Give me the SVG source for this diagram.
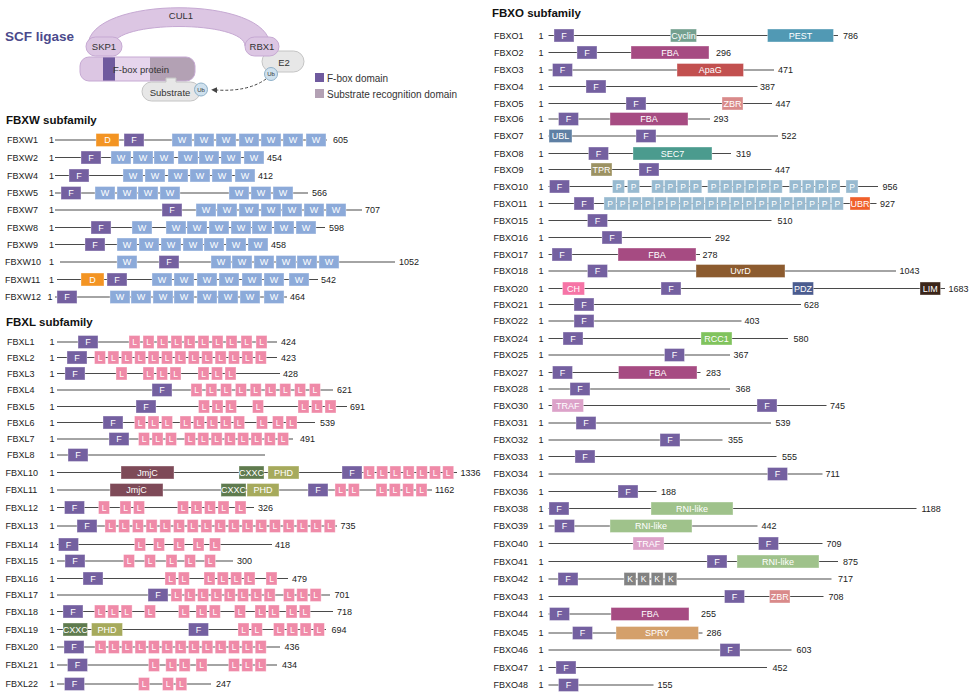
<svg xmlns="http://www.w3.org/2000/svg" xmlns:xlink="http://www.w3.org/1999/xlink" width="974" height="694" viewBox="0 0 974 694">
<style>
text{font-family:"Liberation Sans",Arial,sans-serif}
.lb{font-size:9px;fill:#222}
.hd{font-size:11.5px;font-weight:bold;fill:#111}
.t{font-size:9px;fill:#fff;text-anchor:middle}
.ts{font-size:8.5px;fill:#fff;text-anchor:middle}
.bb{stroke:#4a4a4a;stroke-width:1.1}
rect.d{stroke:#fff;stroke-opacity:.45;stroke-width:.8}
.cF{fill:#7460a0}.cW{fill:#8caad9}.cL{fill:#ef8aa8}.cP{fill:#98bad0}.cK{fill:#828282}
.cD{fill:#f39423}.cJ{fill:#7e4a58}.cX{fill:#5f7b4e}.cH{fill:#a6aa5c}
.cCy{fill:#74a08f}.cPE{fill:#5199b4}.cFBA{fill:#a64b82}.cAp{fill:#c2504f}.cZ{fill:#d98a8a}
.cU{fill:#5f80a4}.cS{fill:#4b9b8e}.cT{fill:#9c9262}.cUB{fill:#f0602b}.cUv{fill:#8c5b2f}
.cCH{fill:#f674a6}.cPD{fill:#4b5c8f}.cLI{fill:#3b2519}.cR{fill:#80c35d}.cTR{fill:#dca2c9}
.cRN{fill:#9fc28b}.cSP{fill:#d4a06b}
.pp{fill:#dcc6e3;stroke:#c6a9d3;stroke-width:1}
.gr{fill:#e7e7e7;stroke:#c4c4c4;stroke-width:1}
.ub{fill:#cfe1ee;stroke:#8fb1c9;stroke-width:1}
.sc{font-size:9.5px;fill:#333;text-anchor:middle}
.ut{font-size:6px;fill:#333;text-anchor:middle}
.lg{font-size:10px;fill:#333}
</style>
<defs>
<g id="dF"><rect class="d cF" y="-6.5" width="20" height="13"/><text class="t" x="10" y="3.2">F</text></g>
<g id="dW"><rect class="d cW" y="-6.5" width="20" height="13"/><text class="t" x="10" y="3.2">W</text></g>
<g id="dL"><rect class="d cL" y="-6.5" width="11" height="13"/><text class="ts" x="5.5" y="3">L</text></g>
<g id="dP"><rect class="d cP" y="-6.5" width="12" height="13"/><text class="ts" x="6" y="3">P</text></g>
<g id="dK"><rect class="d cK" y="-6.5" width="12" height="13"/><text class="ts" x="6" y="3">K</text></g>
<g id="dD"><rect class="d cD" y="-6.5" width="23" height="13"/><text class="t" x="11.5" y="3.2">D</text></g>
<marker id="ah" viewBox="0 0 10 10" refX="2" refY="5" markerWidth="6" markerHeight="6" orient="auto-start-reverse"><path d="M0,0 L10,5 L0,10 Z" fill="#444"/></marker>
<clipPath id="fbp"><rect x="80" y="57" width="115" height="24" rx="9"/></clipPath>
</defs>

<g id="scf-title"><text x="5" y="41" style="font-size:13.5px;font-weight:bold;fill:#4b4a8c">SCF ligase</text></g>
<g id="CUL1"><path class="pp" d="M88,46 C88,-5 270,-5 270,46 L245,46 C245,20 113,20 113,46 Z"/><text class="sc" x="181" y="18.5">CUL1</text></g>
<g id="E2"><rect class="gr" x="262" y="51" width="42" height="21" rx="10.5"/><text class="sc" x="284" y="66">E2</text></g>
<g id="SKP1"><rect class="pp" x="86" y="37" width="36" height="19" rx="9.5"/><text class="sc" x="104" y="50">SKP1</text></g>
<g id="RBX1"><rect class="pp" x="245" y="37" width="34" height="19" rx="9.5"/><text class="sc" x="262" y="50">RBX1</text></g>
<g id="Ub-E2"><circle class="ub" cx="271" cy="74" r="6.5"/><text class="ut" x="271" y="76.2">Ub</text></g>
<g id="Fbox-protein">
<g clip-path="url(#fbp)"><rect x="80" y="57" width="23" height="24" fill="#dcc6e3"/><rect x="103" y="57" width="12" height="24" fill="#6f5a9e"/><rect x="115" y="57" width="35" height="24" fill="#e6d5ec"/><rect x="150" y="57" width="45" height="24" fill="#b3a1b4"/></g>
<rect x="80" y="57" width="115" height="24" rx="9" fill="none" stroke="#c6a9d3" stroke-width="1"/>
<text class="sc" x="141" y="73">F-box protein</text></g>
<g id="Substrate"><path class="gr" d="M151.5,82 H166 V78 H176 V82 H190.5 A9.5,9.5 0 0 1 190.5,101 H151.5 A9.5,9.5 0 0 1 151.5,82 Z"/><text class="sc" x="170" y="96">Substrate</text></g>
<g id="Ub-sub"><circle class="ub" cx="201" cy="89.5" r="6.5"/><text class="ut" x="201" y="91.7">Ub</text></g>
<g id="connectors"><path d="M266,79 Q248,92 216,90" fill="none" stroke="#444" stroke-width="1" stroke-dasharray="3,2" marker-end="url(#ah)"/></g>
<g id="legend"><rect x="315" y="73" width="9" height="9" fill="#6f5a9e"/><text class="lg" x="327" y="81.5">F-box domain</text><rect x="315" y="89" width="9" height="9" fill="#b3a1b4"/><text class="lg" x="327" y="97.5">Substrate recognition domain</text></g>

<text class="hd" x="6" y="124">FBXW subfamily</text>
<g id="FBXW1" transform="translate(0,140)"><text class="lb" x="7" y="3.2">FBXW1</text><text class="lb" x="49" y="3.2">1</text><line class="bb" x1="55" x2="327"/><use href="#dD" x="96"/><use href="#dF" x="124"/><use href="#dW" x="172"/><use href="#dW" x="194"/><use href="#dW" x="216"/><use href="#dW" x="239"/><use href="#dW" x="261"/><use href="#dW" x="283"/><use href="#dW" x="306"/><text class="lb" x="333" y="3.2">605</text></g>
<g id="FBXW2" transform="translate(0,157.5)"><text class="lb" x="7" y="3.2">FBXW2</text><text class="lb" x="49" y="3.2">1</text><line class="bb" x1="55" x2="264"/><use href="#dF" x="81"/><use href="#dW" x="111"/><use href="#dW" x="133"/><use href="#dW" x="154"/><use href="#dW" x="178"/><use href="#dW" x="199"/><use href="#dW" x="221"/><use href="#dW" x="244"/><text class="lb" x="267" y="3.2">454</text></g>
<g id="FBXW4" transform="translate(0,175.5)"><text class="lb" x="7" y="3.2">FBXW4</text><text class="lb" x="49" y="3.2">1</text><line class="bb" x1="55" x2="255"/><use href="#dF" x="69"/><use href="#dW" x="123"/><use href="#dW" x="145"/><use href="#dW" x="168"/><use href="#dW" x="190"/><use href="#dW" x="212"/><use href="#dW" x="235"/><text class="lb" x="258" y="3.2">412</text></g>
<g id="FBXW5" transform="translate(0,193)"><text class="lb" x="7" y="3.2">FBXW5</text><text class="lb" x="49" y="3.2">1</text><line class="bb" x1="55" x2="308"/><use href="#dF" x="61"/><use href="#dW" x="95"/><use href="#dW" x="117"/><use href="#dW" x="138"/><use href="#dW" x="160"/><use href="#dW" x="229"/><use href="#dW" x="251"/><use href="#dW" x="273"/><text class="lb" x="312" y="3.2">566</text></g>
<g id="FBXW7" transform="translate(0,210)"><text class="lb" x="7" y="3.2">FBXW7</text><text class="lb" x="49" y="3.2">1</text><line class="bb" x1="55" x2="362"/><use href="#dF" x="162"/><use href="#dW" x="196"/><use href="#dW" x="217"/><use href="#dW" x="239"/><use href="#dW" x="261"/><use href="#dW" x="282"/><use href="#dW" x="304"/><use href="#dW" x="326"/><text class="lb" x="365" y="3.2">707</text></g>
<g id="FBXW8" transform="translate(0,227.5)"><text class="lb" x="7" y="3.2">FBXW8</text><text class="lb" x="49" y="3.2">1</text><line class="bb" x1="55" x2="325"/><use href="#dF" x="91"/><use href="#dW" x="132"/><use href="#dW" x="166"/><use href="#dW" x="187"/><use href="#dW" x="209"/><use href="#dW" x="231"/><use href="#dW" x="252"/><use href="#dW" x="274"/><use href="#dW" x="296"/><text class="lb" x="329" y="3.2">598</text></g>
<g id="FBXW9" transform="translate(0,244.5)"><text class="lb" x="7" y="3.2">FBXW9</text><text class="lb" x="49" y="3.2">1</text><line class="bb" x1="55" x2="268"/><use href="#dF" x="85"/><use href="#dW" x="117"/><use href="#dW" x="139"/><use href="#dW" x="161"/><use href="#dW" x="183"/><use href="#dW" x="204"/><use href="#dW" x="226"/><use href="#dW" x="248"/><text class="lb" x="271" y="3.2">458</text></g>
<g id="FBXW10" transform="translate(0,262)"><text class="lb" x="5" y="3.2">FBXW10</text><text class="lb" x="49" y="3.2">1</text><line class="bb" x1="60" x2="395"/><use href="#dW" x="117"/><use href="#dF" x="159"/><use href="#dW" x="211"/><use href="#dW" x="232"/><use href="#dW" x="254"/><use href="#dW" x="276"/><use href="#dW" x="297"/><use href="#dW" x="319"/><text class="lb" x="399" y="3.2">1052</text></g>
<g id="FBXW11" transform="translate(0,279.5)"><text class="lb" x="5" y="3.2">FBXW11</text><text class="lb" x="49" y="3.2">1</text><line class="bb" x1="57" x2="318"/><use href="#dD" x="81"/><use href="#dF" x="107"/><use href="#dW" x="152"/><use href="#dW" x="174"/><use href="#dW" x="197"/><use href="#dW" x="219"/><use href="#dW" x="242"/><use href="#dW" x="264"/><use href="#dW" x="289"/><text class="lb" x="321" y="3.2">542</text></g>
<g id="FBXW12" transform="translate(0,297)"><text class="lb" x="5" y="3.2">FBXW12</text><text class="lb" x="47.5" y="3.2">1</text><line class="bb" x1="55" x2="287"/><use href="#dF" x="57"/><use href="#dW" x="110"/><use href="#dW" x="131"/><use href="#dW" x="153"/><use href="#dW" x="174"/><use href="#dW" x="197"/><use href="#dW" x="218"/><use href="#dW" x="240"/><use href="#dW" x="264"/><text class="lb" x="290" y="3.2">464</text></g>

<text class="hd" x="6" y="326">FBXL subfamily</text>
<g id="FBXL1" transform="translate(0,342)"><text class="lb" x="7" y="3.2">FBXL1</text><text class="lb" x="49.5" y="3.2">1</text><line class="bb" x1="57" x2="277"/><use href="#dF" x="78"/><use href="#dL" x="129"/><use href="#dL" x="143"/><use href="#dL" x="157"/><use href="#dL" x="171"/><use href="#dL" x="184"/><use href="#dL" x="198"/><use href="#dL" x="212"/><use href="#dL" x="226"/><use href="#dL" x="241"/><use href="#dL" x="256"/><text class="lb" x="281" y="3.2">424</text></g>
<g id="FBXL2" transform="translate(0,357.5)"><text class="lb" x="7" y="3.2">FBXL2</text><text class="lb" x="49.5" y="3.2">1</text><line class="bb" x1="57" x2="277"/><use href="#dF" x="67"/><use href="#dL" x="94.5"/><use href="#dL" x="107.9"/><use href="#dL" x="121.3"/><use href="#dL" x="134.7"/><use href="#dL" x="148.1"/><use href="#dL" x="161.5"/><use href="#dL" x="174.9"/><use href="#dL" x="188.3"/><use href="#dL" x="201.7"/><use href="#dL" x="215.1"/><use href="#dL" x="228.5"/><use href="#dL" x="241.9"/><use href="#dL" x="255.3"/><text class="lb" x="281" y="3.2">423</text></g>
<g id="FBXL3" transform="translate(0,373.5)"><text class="lb" x="7" y="3.2">FBXL3</text><text class="lb" x="49.5" y="3.2">1</text><line class="bb" x1="57" x2="280"/><use href="#dF" x="65"/><use href="#dL" x="116"/><use href="#dL" x="143"/><use href="#dL" x="156.5"/><use href="#dL" x="170"/><use href="#dL" x="198"/><use href="#dL" x="211.5"/><use href="#dL" x="225"/><text class="lb" x="283" y="3.2">428</text></g>
<g id="FBXL4" transform="translate(0,390)"><text class="lb" x="7" y="3.2">FBXL4</text><text class="lb" x="49.5" y="3.2">1</text><line class="bb" x1="57" x2="333"/><use href="#dF" x="152"/><use href="#dL" x="191"/><use href="#dL" x="205.8"/><use href="#dL" x="220.6"/><use href="#dL" x="235.4"/><use href="#dL" x="250.2"/><use href="#dL" x="265"/><use href="#dL" x="279.8"/><use href="#dL" x="294.6"/><use href="#dL" x="309.4"/><text class="lb" x="337" y="3.2">621</text></g>
<g id="FBXL5" transform="translate(0,406.5)"><text class="lb" x="7" y="3.2">FBXL5</text><text class="lb" x="49.5" y="3.2">1</text><line class="bb" x1="57" x2="347"/><use href="#dF" x="136"/><use href="#dL" x="198.5"/><use href="#dL" x="212"/><use href="#dL" x="225.5"/><use href="#dL" x="252.5"/><use href="#dL" x="298"/><use href="#dL" x="311.5"/><use href="#dL" x="325"/><text class="lb" x="350" y="3.2">691</text></g>
<g id="FBXL6" transform="translate(0,422.5)"><text class="lb" x="7" y="3.2">FBXL6</text><text class="lb" x="49.5" y="3.2">1</text><line class="bb" x1="57" x2="315"/><use href="#dF" x="103"/><use href="#dL" x="134.5"/><use href="#dL" x="148"/><use href="#dL" x="161.5"/><use href="#dL" x="180"/><use href="#dL" x="193.4"/><use href="#dL" x="206.8"/><use href="#dL" x="220.2"/><use href="#dL" x="233.6"/><use href="#dL" x="256.5"/><use href="#dL" x="272.5"/><use href="#dL" x="286"/><text class="lb" x="320" y="3.2">539</text></g>
<g id="FBXL7" transform="translate(0,439)"><text class="lb" x="7" y="3.2">FBXL7</text><text class="lb" x="49.5" y="3.2">1</text><line class="bb" x1="57" x2="293"/><use href="#dF" x="109"/><use href="#dL" x="138.5"/><use href="#dL" x="152"/><use href="#dL" x="165.5"/><use href="#dL" x="184.5"/><use href="#dL" x="197.8"/><use href="#dL" x="211.1"/><use href="#dL" x="224.4"/><use href="#dL" x="237.7"/><use href="#dL" x="251"/><use href="#dL" x="264.3"/><use href="#dL" x="277.6"/><text class="lb" x="300" y="3.2">491</text></g>
<g id="FBXL8" transform="translate(0,455)"><text class="lb" x="7" y="3.2">FBXL8</text><text class="lb" x="49.5" y="3.2">1</text><line class="bb" x1="57" x2="265"/><use href="#dF" x="68"/></g>
<g id="FBXL10" transform="translate(0,472.5)"><text class="lb" x="5.5" y="3.2">FBXL10</text><text class="lb" x="49.5" y="3.2">1</text><line class="bb" x1="57" x2="457"/><rect class="d cJ" x="121" y="-6.5" width="53" height="13"/><text class="t" x="147.5" y="3.2">JmjC</text><rect class="d cX" x="239" y="-6.5" width="25" height="13"/><text class="t" x="251.5" y="3.2">CXXC</text><rect class="d cH" x="268" y="-6.5" width="31" height="13"/><text class="t" x="283.5" y="3.2">PHD</text><use href="#dF" x="342"/><use href="#dL" x="363.5"/><use href="#dL" x="376.7"/><use href="#dL" x="389.9"/><use href="#dL" x="403.1"/><use href="#dL" x="416.3"/><use href="#dL" x="429.5"/><use href="#dL" x="442.7"/><text class="lb" x="460.5" y="3.2">1336</text></g>
<g id="FBXL11" transform="translate(0,490)"><text class="lb" x="5.5" y="3.2">FBXL11</text><text class="lb" x="49.5" y="3.2">1</text><line class="bb" x1="57" x2="432"/><rect class="d cJ" x="110" y="-6.5" width="53" height="13"/><text class="t" x="136.5" y="3.2">JmjC</text><rect class="d cX" x="221" y="-6.5" width="25" height="13"/><text class="t" x="233.5" y="3.2">CXXC</text><rect class="d cH" x="247" y="-6.5" width="32" height="13"/><text class="t" x="263" y="3.2">PHD</text><use href="#dF" x="308"/><use href="#dL" x="335"/><use href="#dL" x="348.3"/><use href="#dL" x="376"/><use href="#dL" x="389.3"/><use href="#dL" x="402.7"/><use href="#dL" x="416"/><text class="lb" x="435" y="3.2">1162</text></g>
<g id="FBXL12" transform="translate(0,507.5)"><text class="lb" x="5.5" y="3.2">FBXL12</text><text class="lb" x="49.5" y="3.2">1</text><line class="bb" x1="57" x2="254"/><use href="#dF" x="64.5"/><use href="#dL" x="98.5"/><use href="#dL" x="120"/><use href="#dL" x="133.5"/><use href="#dL" x="177.5"/><use href="#dL" x="191"/><use href="#dL" x="204.5"/><use href="#dL" x="218"/><use href="#dL" x="235"/><text class="lb" x="258" y="3.2">326</text></g>
<g id="FBXL13" transform="translate(0,526)"><text class="lb" x="5.5" y="3.2">FBXL13</text><text class="lb" x="49.5" y="3.2">1</text><line class="bb" x1="57" x2="337"/><use href="#dF" x="77"/><use href="#dL" x="105"/><use href="#dL" x="118.7"/><use href="#dL" x="132.4"/><use href="#dL" x="146.1"/><use href="#dL" x="159.8"/><use href="#dL" x="173.5"/><use href="#dL" x="187.2"/><use href="#dL" x="200.9"/><use href="#dL" x="214.6"/><use href="#dL" x="228.3"/><use href="#dL" x="242"/><use href="#dL" x="255.7"/><use href="#dL" x="269.4"/><use href="#dL" x="283.1"/><use href="#dL" x="296.8"/><use href="#dL" x="310.5"/><use href="#dL" x="324.2"/><text class="lb" x="340.5" y="3.2">735</text></g>
<g id="FBXL14" transform="translate(0,544.5)"><text class="lb" x="5.5" y="3.2">FBXL14</text><text class="lb" x="49.5" y="3.2">1</text><line class="bb" x1="57" x2="272"/><use href="#dF" x="58.5"/><use href="#dL" x="134.5"/><use href="#dL" x="153.5"/><use href="#dL" x="173.5"/><use href="#dL" x="193"/><use href="#dL" x="209.5"/><text class="lb" x="275" y="3.2">418</text></g>
<g id="FBXL15" transform="translate(0,561)"><text class="lb" x="5.5" y="3.2">FBXL15</text><text class="lb" x="49.5" y="3.2">1</text><line class="bb" x1="57" x2="233"/><use href="#dF" x="65"/><use href="#dL" x="123.5"/><use href="#dL" x="144.5"/><use href="#dL" x="166"/><use href="#dL" x="184.5"/><use href="#dL" x="204.5"/><text class="lb" x="237" y="3.2">300</text></g>
<g id="FBXL16" transform="translate(0,578.5)"><text class="lb" x="5.5" y="3.2">FBXL16</text><text class="lb" x="49.5" y="3.2">1</text><line class="bb" x1="57" x2="288"/><use href="#dF" x="83"/><use href="#dL" x="165"/><use href="#dL" x="178.3"/><use href="#dL" x="204"/><use href="#dL" x="217.3"/><use href="#dL" x="230.7"/><use href="#dL" x="244"/><use href="#dL" x="266"/><text class="lb" x="292" y="3.2">479</text></g>
<g id="FBXL17" transform="translate(0,595)"><text class="lb" x="5.5" y="3.2">FBXL17</text><text class="lb" x="49.5" y="3.2">1</text><line class="bb" x1="57" x2="330"/><use href="#dF" x="148"/><use href="#dL" x="171"/><use href="#dL" x="184.3"/><use href="#dL" x="197.6"/><use href="#dL" x="210.9"/><use href="#dL" x="224.2"/><use href="#dL" x="237.5"/><use href="#dL" x="250.8"/><use href="#dL" x="264.1"/><use href="#dL" x="283.5"/><use href="#dL" x="296.8"/><use href="#dL" x="310.1"/><text class="lb" x="334.5" y="3.2">701</text></g>
<g id="FBXL18" transform="translate(0,611.5)"><text class="lb" x="5.5" y="3.2">FBXL18</text><text class="lb" x="49.5" y="3.2">1</text><line class="bb" x1="57" x2="333"/><use href="#dF" x="63"/><use href="#dL" x="94.5"/><use href="#dL" x="107.8"/><use href="#dL" x="121.1"/><use href="#dL" x="144.5"/><use href="#dL" x="178.5"/><use href="#dL" x="196"/><use href="#dL" x="209.3"/><use href="#dL" x="234.5"/><use href="#dL" x="255"/><use href="#dL" x="268.3"/><use href="#dL" x="286"/><use href="#dL" x="299.3"/><text class="lb" x="337" y="3.2">718</text></g>
<g id="FBXL19" transform="translate(0,629.5)"><text class="lb" x="5.5" y="3.2">FBXL19</text><text class="lb" x="49.5" y="3.2">1</text><line class="bb" x1="57" x2="326"/><rect class="d cX" x="63" y="-6.5" width="24.5" height="13"/><text class="t" x="75.2" y="3.2">CXXC</text><rect class="d cH" x="91.5" y="-6.5" width="31" height="13"/><text class="t" x="107" y="3.2">PHD</text><use href="#dF" x="188.5"/><use href="#dL" x="238"/><use href="#dL" x="251.3"/><use href="#dL" x="273.5"/><use href="#dL" x="286.8"/><use href="#dL" x="300.1"/><use href="#dL" x="313.4"/><text class="lb" x="331.5" y="3.2">694</text></g>
<g id="FBXL20" transform="translate(0,647)"><text class="lb" x="5.5" y="3.2">FBXL20</text><text class="lb" x="49.5" y="3.2">1</text><line class="bb" x1="57" x2="280"/><use href="#dF" x="64"/><use href="#dL" x="95"/><use href="#dL" x="108.35"/><use href="#dL" x="121.7"/><use href="#dL" x="135.05"/><use href="#dL" x="148.4"/><use href="#dL" x="161.75"/><use href="#dL" x="175.1"/><use href="#dL" x="188.45"/><use href="#dL" x="201.8"/><use href="#dL" x="215.15"/><use href="#dL" x="228.5"/><use href="#dL" x="241.85"/><use href="#dL" x="255.2"/><text class="lb" x="284.5" y="3.2">436</text></g>
<g id="FBXL21" transform="translate(0,665)"><text class="lb" x="5.5" y="3.2">FBXL21</text><text class="lb" x="49.5" y="3.2">1</text><line class="bb" x1="57" x2="277"/><use href="#dF" x="67.5"/><use href="#dL" x="148.5"/><use href="#dL" x="165.8"/><use href="#dL" x="179.1"/><use href="#dL" x="196"/><use href="#dL" x="228.5"/><use href="#dL" x="241.8"/><use href="#dL" x="255.1"/><text class="lb" x="282" y="3.2">434</text></g>
<g id="FBXL22" transform="translate(0,684)"><text class="lb" x="5.5" y="3.2">FBXL22</text><text class="lb" x="49.5" y="3.2">1</text><line class="bb" x1="57" x2="211"/><use href="#dF" x="64.5"/><use href="#dL" x="138.5"/><use href="#dL" x="162.5"/><use href="#dL" x="175.8"/><text class="lb" x="216" y="3.2">247</text></g>

<text class="hd" x="492" y="17">FBXO subfamily</text>
<g id="FBXO1" transform="translate(0,35.5)"><text class="lb" x="494" y="3.2">FBXO1</text><text class="lb" x="538.5" y="3.2">1</text><line class="bb" x1="548.5" x2="838"/><use href="#dF" x="554"/><rect class="d cCy" x="670.5" y="-6.5" width="26" height="13"/><text class="t" x="683.5" y="3.2">Cyclin</text><rect class="d cPE" x="767.5" y="-6.5" width="66" height="13"/><text class="t" x="800.5" y="3.2">PEST</text><text class="lb" x="843" y="3.2">786</text></g>
<g id="FBXO2" transform="translate(0,52.5)"><text class="lb" x="494" y="3.2">FBXO2</text><text class="lb" x="538.5" y="3.2">1</text><line class="bb" x1="548.5" x2="709"/><use href="#dF" x="577"/><rect class="d cFBA" x="631" y="-6.5" width="78" height="13"/><text class="t" x="670" y="3.2">FBA</text><text class="lb" x="716" y="3.2">296</text></g>
<g id="FBXO3" transform="translate(0,70)"><text class="lb" x="494" y="3.2">FBXO3</text><text class="lb" x="538.5" y="3.2">1</text><line class="bb" x1="548.5" x2="774"/><use href="#dF" x="552.5"/><rect class="d cAp" x="677" y="-6.5" width="66.5" height="13"/><text class="t" x="710.2" y="3.2">ApaG</text><text class="lb" x="778" y="3.2">471</text></g>
<g id="FBXO4" transform="translate(0,86.5)"><text class="lb" x="494" y="3.2">FBXO4</text><text class="lb" x="538.5" y="3.2">1</text><line class="bb" x1="548.5" x2="757.5"/><use href="#dF" x="586"/><text class="lb" x="760" y="3.2">387</text></g>
<g id="FBXO5" transform="translate(0,103.5)"><text class="lb" x="494" y="3.2">FBXO5</text><text class="lb" x="538.5" y="3.2">1</text><line class="bb" x1="548.5" x2="772"/><use href="#dF" x="626"/><rect class="d cZ" x="722" y="-6.5" width="21" height="13"/><text class="t" x="732.5" y="3.2">ZBR</text><text class="lb" x="775.5" y="3.2">447</text></g>
<g id="FBXO6" transform="translate(0,119)"><text class="lb" x="494" y="3.2">FBXO6</text><text class="lb" x="538.5" y="3.2">1</text><line class="bb" x1="548.5" x2="710"/><use href="#dF" x="558.5"/><rect class="d cFBA" x="610" y="-6.5" width="78" height="13"/><text class="t" x="649" y="3.2">FBA</text><text class="lb" x="713.5" y="3.2">293</text></g>
<g id="FBXO7" transform="translate(0,136)"><text class="lb" x="494" y="3.2">FBXO7</text><text class="lb" x="538.5" y="3.2">1</text><line class="bb" x1="548.5" x2="778"/><rect class="d cU" x="549" y="-6.5" width="23" height="13"/><text class="t" x="560.5" y="3.2">UBL</text><use href="#dF" x="636"/><text class="lb" x="781.5" y="3.2">522</text></g>
<g id="FBXO8" transform="translate(0,153.5)"><text class="lb" x="494" y="3.2">FBXO8</text><text class="lb" x="538.5" y="3.2">1</text><line class="bb" x1="548.5" x2="731"/><use href="#dF" x="588.5"/><rect class="d cS" x="633" y="-6.5" width="79" height="13"/><text class="t" x="672.5" y="3.2">SEC7</text><text class="lb" x="736" y="3.2">319</text></g>
<g id="FBXO9" transform="translate(0,169.5)"><text class="lb" x="494" y="3.2">FBXO9</text><text class="lb" x="538.5" y="3.2">1</text><line class="bb" x1="548.5" x2="771.5"/><rect class="d cT" x="591" y="-6.5" width="21" height="13"/><text class="t" x="601.5" y="3.2">TPR</text><use href="#dF" x="639"/><text class="lb" x="775" y="3.2">447</text></g>
<g id="FBXO10" transform="translate(0,186.5)"><text class="lb" x="493.5" y="3.2">FBXO10</text><text class="lb" x="538.5" y="3.2">1</text><line class="bb" x1="548.5" x2="878"/><use href="#dF" x="549.5"/><use href="#dP" x="612.5"/><use href="#dP" x="627.5"/><use href="#dP" x="651.7"/><use href="#dP" x="664.4"/><use href="#dP" x="677.1"/><use href="#dP" x="689.8"/><use href="#dP" x="707.7"/><use href="#dP" x="720.2"/><use href="#dP" x="732.7"/><use href="#dP" x="745.2"/><use href="#dP" x="757.7"/><use href="#dP" x="770.2"/><use href="#dP" x="789.3"/><use href="#dP" x="802.2"/><use href="#dP" x="815.1"/><use href="#dP" x="828"/><use href="#dP" x="846"/><text class="lb" x="882.5" y="3.2">956</text></g>
<g id="FBXO11" transform="translate(0,203.5)"><text class="lb" x="493.5" y="3.2">FBXO11</text><text class="lb" x="538.5" y="3.2">1</text><line class="bb" x1="548.5" x2="876.5"/><use href="#dF" x="574"/><use href="#dP" x="604"/><use href="#dP" x="616.6"/><use href="#dP" x="629.3"/><use href="#dP" x="641.9"/><use href="#dP" x="654.5"/><use href="#dP" x="667.2"/><use href="#dP" x="679.8"/><use href="#dP" x="692.4"/><use href="#dP" x="705"/><use href="#dP" x="717.7"/><use href="#dP" x="730.3"/><use href="#dP" x="742.9"/><use href="#dP" x="755.6"/><use href="#dP" x="768.2"/><use href="#dP" x="780.8"/><use href="#dP" x="793.5"/><use href="#dP" x="806.1"/><use href="#dP" x="818.7"/><use href="#dP" x="831.3"/><rect class="d cUB" x="850" y="-6.5" width="20" height="13"/><text class="t" x="860" y="3.2">UBR</text><text class="lb" x="880" y="3.2">927</text></g>
<g id="FBXO15" transform="translate(0,220.5)"><text class="lb" x="493.5" y="3.2">FBXO15</text><text class="lb" x="538.5" y="3.2">1</text><line class="bb" x1="548.5" x2="771.5"/><use href="#dF" x="587.5"/><text class="lb" x="777.5" y="3.2">510</text></g>
<g id="FBXO16" transform="translate(0,237.5)"><text class="lb" x="493.5" y="3.2">FBXO16</text><text class="lb" x="538.5" y="3.2">1</text><line class="bb" x1="548.5" x2="711"/><use href="#dF" x="602"/><text class="lb" x="715" y="3.2">292</text></g>
<g id="FBXO17" transform="translate(0,254.5)"><text class="lb" x="493.5" y="3.2">FBXO17</text><text class="lb" x="538.5" y="3.2">1</text><line class="bb" x1="548.5" x2="700"/><use href="#dF" x="552"/><rect class="d cFBA" x="618" y="-6.5" width="78" height="13"/><text class="t" x="657" y="3.2">FBA</text><text class="lb" x="702.5" y="3.2">278</text></g>
<g id="FBXO18" transform="translate(0,271)"><text class="lb" x="493.5" y="3.2">FBXO18</text><text class="lb" x="538.5" y="3.2">1</text><line class="bb" x1="548.5" x2="896"/><use href="#dF" x="587.5"/><rect class="d cUv" x="696" y="-6.5" width="89" height="13"/><text class="t" x="740.5" y="3.2">UvrD</text><text class="lb" x="899.5" y="3.2">1043</text></g>
<g id="FBXO20" transform="translate(0,288.5)"><text class="lb" x="493.5" y="3.2">FBXO20</text><text class="lb" x="538.5" y="3.2">1</text><line class="bb" x1="548.5" x2="945"/><rect class="d cCH" x="562.5" y="-6.5" width="22" height="13"/><text class="t" x="573.5" y="3.2">CH</text><use href="#dF" x="661"/><rect class="d cPD" x="792.5" y="-6.5" width="21" height="13"/><text class="t" x="803" y="3.2">PDZ</text><rect class="d cLI" x="920" y="-6.5" width="20.5" height="13"/><text class="t" x="930.2" y="3.2">LIM</text><text class="lb" x="948.5" y="3.2">1683</text></g>
<g id="FBXO21" transform="translate(0,304.5)"><text class="lb" x="493.5" y="3.2">FBXO21</text><text class="lb" x="538.5" y="3.2">1</text><line class="bb" x1="548.5" x2="801"/><use href="#dF" x="574"/><text class="lb" x="804" y="3.2">628</text></g>
<g id="FBXO22" transform="translate(0,321)"><text class="lb" x="493.5" y="3.2">FBXO22</text><text class="lb" x="538.5" y="3.2">1</text><line class="bb" x1="548.5" x2="741.5"/><use href="#dF" x="574"/><text class="lb" x="744.5" y="3.2">403</text></g>
<g id="FBXO24" transform="translate(0,338.5)"><text class="lb" x="493.5" y="3.2">FBXO24</text><text class="lb" x="538.5" y="3.2">1</text><line class="bb" x1="548.5" x2="788"/><use href="#dF" x="563"/><rect class="d cR" x="701" y="-6.5" width="31" height="13"/><text class="t" x="716.5" y="3.2">RCC1</text><text class="lb" x="793.5" y="3.2">580</text></g>
<g id="FBXO25" transform="translate(0,355)"><text class="lb" x="493.5" y="3.2">FBXO25</text><text class="lb" x="538.5" y="3.2">1</text><line class="bb" x1="548.5" x2="730"/><use href="#dF" x="664.5"/><text class="lb" x="733.5" y="3.2">367</text></g>
<g id="FBXO27" transform="translate(0,372.5)"><text class="lb" x="493.5" y="3.2">FBXO27</text><text class="lb" x="538.5" y="3.2">1</text><line class="bb" x1="548.5" x2="700.5"/><use href="#dF" x="552.5"/><rect class="d cFBA" x="618.5" y="-6.5" width="78.5" height="13"/><text class="t" x="657.7" y="3.2">FBA</text><text class="lb" x="706" y="3.2">283</text></g>
<g id="FBXO28" transform="translate(0,389)"><text class="lb" x="493.5" y="3.2">FBXO28</text><text class="lb" x="538.5" y="3.2">1</text><line class="bb" x1="548.5" x2="730"/><use href="#dF" x="570"/><text class="lb" x="735.5" y="3.2">368</text></g>
<g id="FBXO30" transform="translate(0,405.5)"><text class="lb" x="493.5" y="3.2">FBXO30</text><text class="lb" x="538.5" y="3.2">1</text><line class="bb" x1="548.5" x2="826.5"/><rect class="d cTR" x="552" y="-6.5" width="31.5" height="13"/><text class="t" x="567.7" y="3.2">TRAF</text><use href="#dF" x="757"/><text class="lb" x="830" y="3.2">745</text></g>
<g id="FBXO31" transform="translate(0,423)"><text class="lb" x="493.5" y="3.2">FBXO31</text><text class="lb" x="538.5" y="3.2">1</text><line class="bb" x1="548.5" x2="771"/><use href="#dF" x="576"/><text class="lb" x="775.5" y="3.2">539</text></g>
<g id="FBXO32" transform="translate(0,440)"><text class="lb" x="493.5" y="3.2">FBXO32</text><text class="lb" x="538.5" y="3.2">1</text><line class="bb" x1="548.5" x2="722.5"/><use href="#dF" x="660"/><text class="lb" x="728" y="3.2">355</text></g>
<g id="FBXO33" transform="translate(0,456.5)"><text class="lb" x="493.5" y="3.2">FBXO33</text><text class="lb" x="538.5" y="3.2">1</text><line class="bb" x1="548.5" x2="776.5"/><use href="#dF" x="575"/><text class="lb" x="782" y="3.2">555</text></g>
<g id="FBXO34" transform="translate(0,474)"><text class="lb" x="493.5" y="3.2">FBXO34</text><text class="lb" x="538.5" y="3.2">1</text><line class="bb" x1="548.5" x2="822.5"/><use href="#dF" x="767.5"/><text class="lb" x="825.5" y="3.2">711</text></g>
<g id="FBXO36" transform="translate(0,491.5)"><text class="lb" x="493.5" y="3.2">FBXO36</text><text class="lb" x="538.5" y="3.2">1</text><line class="bb" x1="548.5" x2="656.5"/><use href="#dF" x="618"/><text class="lb" x="661" y="3.2">188</text></g>
<g id="FBXO38" transform="translate(0,508.5)"><text class="lb" x="493.5" y="3.2">FBXO38</text><text class="lb" x="538.5" y="3.2">1</text><line class="bb" x1="548.5" x2="916.5"/><use href="#dF" x="549"/><rect class="d cRN" x="651" y="-6.5" width="82" height="13"/><text class="t" x="692" y="3.2">RNI-like</text><text class="lb" x="921.5" y="3.2">1188</text></g>
<g id="FBXO39" transform="translate(0,526)"><text class="lb" x="493.5" y="3.2">FBXO39</text><text class="lb" x="538.5" y="3.2">1</text><line class="bb" x1="548.5" x2="757.5"/><use href="#dF" x="554.5"/><rect class="d cRN" x="610" y="-6.5" width="82" height="13"/><text class="t" x="651" y="3.2">RNI-like</text><text class="lb" x="761.5" y="3.2">442</text></g>
<g id="FBXO40" transform="translate(0,543.5)"><text class="lb" x="493.5" y="3.2">FBXO40</text><text class="lb" x="538.5" y="3.2">1</text><line class="bb" x1="548.5" x2="822.5"/><rect class="d cTR" x="633" y="-6.5" width="31" height="13"/><text class="t" x="648.5" y="3.2">TRAF</text><use href="#dF" x="758.5"/><text class="lb" x="826.5" y="3.2">709</text></g>
<g id="FBXO41" transform="translate(0,561.5)"><text class="lb" x="493.5" y="3.2">FBXO41</text><text class="lb" x="538.5" y="3.2">1</text><line class="bb" x1="548.5" x2="838"/><use href="#dF" x="707"/><rect class="d cRN" x="737" y="-6.5" width="82" height="13"/><text class="t" x="778" y="3.2">RNI-like</text><text class="lb" x="843" y="3.2">875</text></g>
<g id="FBXO42" transform="translate(0,579)"><text class="lb" x="493.5" y="3.2">FBXO42</text><text class="lb" x="538.5" y="3.2">1</text><line class="bb" x1="548.5" x2="831.5"/><use href="#dF" x="558"/><use href="#dK" x="624"/><use href="#dK" x="637.6"/><use href="#dK" x="651.2"/><use href="#dK" x="664.8"/><text class="lb" x="838" y="3.2">717</text></g>
<g id="FBXO43" transform="translate(0,596.5)"><text class="lb" x="493.5" y="3.2">FBXO43</text><text class="lb" x="538.5" y="3.2">1</text><line class="bb" x1="548.5" x2="823.5"/><use href="#dF" x="724.5"/><rect class="d cZ" x="769.5" y="-6.5" width="20.5" height="13"/><text class="t" x="779.7" y="3.2">ZBR</text><text class="lb" x="828.5" y="3.2">708</text></g>
<g id="FBXO44" transform="translate(0,614)"><text class="lb" x="493.5" y="3.2">FBXO44</text><text class="lb" x="538.5" y="3.2">1</text><line class="bb" x1="548.5" x2="689"/><use href="#dF" x="549.5"/><rect class="d cFBA" x="611" y="-6.5" width="78" height="13"/><text class="t" x="650" y="3.2">FBA</text><text class="lb" x="701" y="3.2">255</text></g>
<g id="FBXO45" transform="translate(0,633)"><text class="lb" x="493.5" y="3.2">FBXO45</text><text class="lb" x="538.5" y="3.2">1</text><line class="bb" x1="548.5" x2="702.5"/><use href="#dF" x="572.5"/><rect class="d cSP" x="616" y="-6.5" width="82.5" height="13"/><text class="t" x="657.2" y="3.2">SPRY</text><text class="lb" x="706.5" y="3.2">286</text></g>
<g id="FBXO46" transform="translate(0,650)"><text class="lb" x="493.5" y="3.2">FBXO46</text><text class="lb" x="538.5" y="3.2">1</text><line class="bb" x1="548.5" x2="791.5"/><use href="#dF" x="720"/><text class="lb" x="796.5" y="3.2">603</text></g>
<g id="FBXO47" transform="translate(0,667.5)"><text class="lb" x="493.5" y="3.2">FBXO47</text><text class="lb" x="538.5" y="3.2">1</text><line class="bb" x1="548.5" x2="767"/><use href="#dF" x="556"/><text class="lb" x="772.5" y="3.2">452</text></g>
<g id="FBXO48" transform="translate(0,685)"><text class="lb" x="493.5" y="3.2">FBXO48</text><text class="lb" x="538.5" y="3.2">1</text><line class="bb" x1="548.5" x2="653.5"/><use href="#dF" x="558.5"/><text class="lb" x="657.5" y="3.2">155</text></g>
</svg>
